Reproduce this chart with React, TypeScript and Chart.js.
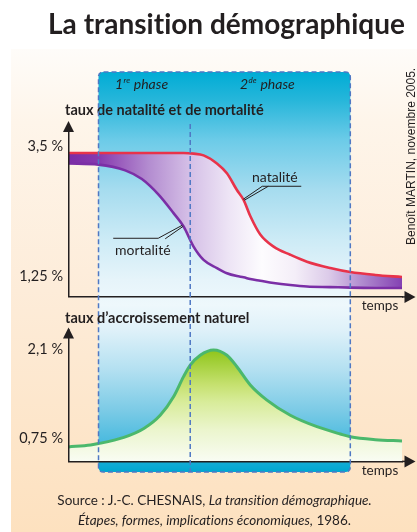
import React, { useEffect, useRef } from "react";
import { Chart, registerables } from "chart.js";

Chart.register(...registerables);

// ---------------- data ----------------
const TIME = [0, 9, 17, 22, 27, 31.5, 34.5, 37.5, 40.5, 44.5, 47.5, 50.5, 52.5, 54.5, 57.5, 61.5, 66.5, 71.5, 78.5, 84.5, 92, 100];
const NATALITE = [3.39, 3.39, 3.39, 3.39, 3.39, 3.39, 3.39, 3.38, 3.35, 3.21, 3.04, 2.75, 2.58, 2.3, 1.98, 1.77, 1.63, 1.51, 1.4, 1.33, 1.28, 1.245];
const MORTALITE = [3.21, 3.19, 3.09, 2.94, 2.67, 2.35, 2.12, 1.77, 1.54, 1.4, 1.31, 1.26, 1.24, 1.21, 1.18, 1.14, 1.105, 1.08, 1.07, 1.06, 1.055, 1.055];

const TIME_GROWTH = [0, 6.6, 9, 16.6, 22.6, 27.5, 31.5, 34.5, 36.5, 39.5, 43.5, 47.5, 50.5, 54.5, 59.5, 66.5, 74.5, 81.5, 84.5, 92, 100];
const ACCROISSEMENT = [0.62, 0.65, 0.67, 0.765, 0.9, 1.1, 1.38, 1.685, 1.86, 2.01, 2.09, 2.01, 1.836, 1.56, 1.33, 1.1, 0.926, 0.815, 0.774, 0.73, 0.71];

const RATE_TICKS = [1.25, 3.5];
const GROWTH_TICKS = [0.75, 2.1];
const RATE_RANGE = [0.9, 3.85];
const GROWTH_RANGE = [0.4, 2.4];
const TIME_RANGE = [0, 100];
const PHASE_BOUNDS = [9, 36.5, 84.5];

const TITLE = "La transition démographique";
const RATE_AXIS_TITLE = "taux de natalité et de mortalité";
const GROWTH_AXIS_TITLE = "taux d\u2019accroissement naturel";
const X_AXIS_TITLE = "temps";
const NAT_LABEL = "natalité";
const MORT_LABEL = "mortalité";
const CREDIT = "Benoît MARTIN, novembre 2005.";

// ---------------- styles ----------------
const W = 417;
const H = 532;
const FONT = "Lato, 'Open Sans', sans-serif";
const INK = "#231f20";
const DASH_COLOR = "#4f78c4";
const BAND_TOP = 72;
const BAND_BOTTOM = 472;

const PURPLE_STOPS: [number, string][] = [
  [0, "#7a2ca6"], [0.09, "#8739ae"], [0.24, "#b38cd0"], [0.36, "#d4bee6"],
  [0.48, "#ede4f5"], [0.58, "#fdfcfe"], [0.68, "#f4eef8"], [0.78, "#dccbe9"],
  [0.88, "#b08bcf"], [1, "#8441b3"],
];
const GREEN_STOPS: [number, string][] = [
  [0, "#86c212"], [0.16, "#90c61c"], [0.42, "#c6e170"], [0.55, "#d8ec9a"],
  [0.76, "#ebf5cd"], [1, "#f9fcf3"],
];
const BLUE_STOPS: [number, string][] = [
  [0, "#00acd5"], [0.07, "#26b6da"], [0.17, "#6ccbe8"], [0.295, "#a6dcef"],
  [0.42, "#cdebf6"], [0.52, "#e6f4fa"], [0.5825, "#eef8fc"], [0.645, "#dff1f9"],
  [0.745, "#b3e0f1"], [0.845, "#7ccbe6"], [0.92, "#4dbbdf"], [0.9725, "#16acd6"],
  [1, "#00a6d0"],
];

const fmtPct = (v: number) => String(v).replace(".", ",") + " %";

function roundRectPath(ctx: CanvasRenderingContext2D, x: number, y: number, w: number, h: number, r: number) {
  ctx.beginPath();
  ctx.moveTo(x + r, y);
  ctx.lineTo(x + w - r, y);
  ctx.quadraticCurveTo(x + w, y, x + w, y + r);
  ctx.lineTo(x + w, y + h - r);
  ctx.quadraticCurveTo(x + w, y + h, x + w - r, y + h);
  ctx.lineTo(x + r, y + h);
  ctx.quadraticCurveTo(x, y + h, x, y + h - r);
  ctx.lineTo(x, y + r);
  ctx.quadraticCurveTo(x, y, x + r, y);
  ctx.closePath();
}

function text(ctx: CanvasRenderingContext2D, s: string, x: number, y: number, font: string, align: CanvasTextAlign = "left") {
  ctx.font = font;
  ctx.fillStyle = INK;
  ctx.textAlign = align;
  ctx.textBaseline = "middle";
  ctx.fillText(s, x, y);
  return ctx.measureText(s).width;
}

function arrowUp(ctx: CanvasRenderingContext2D, x: number, tip: number) {
  ctx.beginPath();
  ctx.moveTo(x, tip);
  ctx.lineTo(x - 5.5, tip + 11);
  ctx.lineTo(x + 5.5, tip + 11);
  ctx.closePath();
  ctx.fill();
}

function arrowRight(ctx: CanvasRenderingContext2D, tip: number, y: number, from: number) {
  ctx.beginPath();
  ctx.moveTo(from, y);
  ctx.lineTo(tip - 10, y);
  ctx.stroke();
  ctx.beginPath();
  ctx.moveTo(tip, y);
  ctx.lineTo(tip - 11, y - 6);
  ctx.lineTo(tip - 11, y + 6);
  ctx.closePath();
  ctx.fill();
}

function phaseLabel(ctx: CanvasRenderingContext2D, x: number, y: number, num: string, sup: string) {
  const w1 = text(ctx, num, x, y, `italic 14px ${FONT}`);
  const w2 = text(ctx, sup, x + w1 + 0.5, y - 4, `italic 8px ${FONT}`);
  text(ctx, " phase", x + w1 + w2 + 1, y, `italic 14px ${FONT}`);
}

function purpleFill(chart: any) {
  const { ctx, chartArea } = chart;
  if (!chartArea) return "#b58ad0";
  const g = ctx.createLinearGradient(chartArea.left, 0, chartArea.right, 0);
  PURPLE_STOPS.forEach(([o, c]) => g.addColorStop(o, c));
  return g;
}

function greenFill(chart: any) {
  const { ctx, chartArea } = chart;
  if (!chartArea) return "#cfe585";
  const g = ctx.createLinearGradient(0, chartArea.top, 0, chartArea.bottom);
  GREEN_STOPS.forEach(([o, c]) => g.addColorStop(o, c));
  return g;
}

const rateDecor = {
  id: "rateDecor",
  beforeDraw(chart: any) {
    const { ctx } = chart;
    const xs = chart.scales.x;
    ctx.save();
    const pg = ctx.createLinearGradient(0, 49, 0, H);
    pg.addColorStop(0, "#fefcf9");
    pg.addColorStop(0.15, "#fef5ea");
    pg.addColorStop(0.5, "#fdecd9");
    pg.addColorStop(1, "#fde1bf");
    ctx.fillStyle = pg;
    ctx.fillRect(11, 49, W - 11, H - 49);
    const x0 = xs.getPixelForValue(PHASE_BOUNDS[0]);
    const x1 = xs.getPixelForValue(PHASE_BOUNDS[2]);
    const bg = ctx.createLinearGradient(0, BAND_TOP, 0, BAND_BOTTOM);
    BLUE_STOPS.forEach(([o, c]) => bg.addColorStop(o, c));
    ctx.fillStyle = bg;
    roundRectPath(ctx, x0, BAND_TOP, x1 - x0, BAND_BOTTOM - BAND_TOP, 5);
    ctx.fill();
    ctx.restore();
  },
  afterDraw(chart: any) {
    const { ctx, chartArea: ca } = chart;
    const xs = chart.scales.x;
    const ys = chart.scales.y;
    ctx.save();
    ctx.fillStyle = INK;
    ctx.strokeStyle = INK;
    ctx.lineWidth = 1.5;
    arrowUp(ctx, ca.left, ca.top - 5.5);
    arrowRight(ctx, ca.right + 13.5, ca.bottom, ca.right);
    text(ctx, X_AXIS_TITLE, 380, 306, `13.5px ${FONT}`, "center");
    text(ctx, RATE_AXIS_TITLE, 65, 110, `bold 14.5px ${FONT}`);
    phaseLabel(ctx, 115, 84, "1", "re");
    phaseLabel(ctx, 240, 84, "2", "de");
    // curve labels with leaders
    ctx.lineWidth = 1;
    const na = { x: xs.getPixelForValue(52.4), y: ys.getPixelForValue(2.59) };
    ctx.beginPath();
    ctx.moveTo(na.x, na.y);
    ctx.lineTo(na.x + 19, na.y - 13);
    ctx.lineTo(na.x + 58, na.y - 13);
    ctx.moveTo(na.x + 1, na.y + 1);
    ctx.lineTo(na.x + 25, na.y - 13);
    ctx.stroke();
    text(ctx, NAT_LABEL, 252, 177, `14px ${FONT}`);
    const ma = { x: xs.getPixelForValue(34.1), y: ys.getPixelForValue(2.14) };
    ctx.beginPath();
    ctx.moveTo(ma.x, ma.y);
    ctx.lineTo(ma.x - 24, ma.y + 13);
    ctx.lineTo(ma.x - 69, ma.y + 13);
    ctx.moveTo(ma.x + 1, ma.y + 1);
    ctx.lineTo(ma.x - 17, ma.y + 13.5);
    ctx.stroke();
    text(ctx, MORT_LABEL, 115, 250, `14px ${FONT}`);
    ctx.restore();
  },
};

const growthDecor = {
  id: "growthDecor",
  afterDraw(chart: any) {
    const { ctx, chartArea: ca } = chart;
    const xs = chart.scales.x;
    const [p0, p1, p2] = PHASE_BOUNDS.map((v) => xs.getPixelForValue(v));
    ctx.save();
    ctx.strokeStyle = DASH_COLOR;
    ctx.lineWidth = 1.5;
    ctx.setLineDash([5, 3]);
    roundRectPath(ctx, p0, BAND_TOP, p2 - p0, BAND_BOTTOM - BAND_TOP, 5);
    ctx.stroke();
    ctx.beginPath();
    ctx.moveTo(p1, 124);
    ctx.lineTo(p1, BAND_BOTTOM);
    ctx.stroke();
    ctx.setLineDash([]);
    ctx.fillStyle = INK;
    ctx.strokeStyle = INK;
    ctx.lineWidth = 1.5;
    arrowUp(ctx, ca.left, ca.top - 2);
    arrowRight(ctx, ca.right + 13.5, ca.bottom, ca.right);
    text(ctx, GROWTH_AXIS_TITLE, 65, 318, `bold 14.5px ${FONT}`);
    text(ctx, X_AXIS_TITLE, 380, 471, `13.5px ${FONT}`, "center");
    ctx.restore();
  },
};

function axisOptions(ticks: number[], range: number[]) {
  return {
    x: {
      type: "linear",
      min: TIME_RANGE[0],
      max: TIME_RANGE[1],
      grid: { display: false, drawTicks: false },
      ticks: { display: false },
      border: { display: true, color: INK, width: 1.5, z: 1 },
      afterFit: (s: any) => { s.height = 0; },
    },
    y: {
      type: "linear",
      min: range[0],
      max: range[1],
      grid: { display: false, drawTicks: false },
      border: { display: true, color: INK, width: 1.5, z: 1 },
      ticks: {
        padding: 5.5,
        color: INK,
        font: { family: FONT, size: 14.5 },
        callback: (v: number) => fmtPct(v),
      },
      afterBuildTicks: (s: any) => { s.ticks = ticks.map((value) => ({ value })); },
      afterFit: (s: any) => { s.width = 68.5; },
    },
  };
}

const baseOptions = {
  responsive: false,
  animation: false,
  events: [],
};

export default function App() {
  const refA = useRef<HTMLCanvasElement>(null);
  const refB = useRef<HTMLCanvasElement>(null);

  useEffect(() => {
    const rates = new Chart(refA.current as HTMLCanvasElement, {
      type: "line",
      data: {
        datasets: [
          {
            label: NAT_LABEL,
            data: TIME.map((t, i) => ({ x: t, y: NATALITE[i] })),
            borderColor: "#e8334a",
            borderWidth: 2.6,
            pointRadius: 0,
            cubicInterpolationMode: "monotone",
            fill: "+1",
            backgroundColor: (c: any) => purpleFill(c.chart),
          },
          {
            label: MORT_LABEL,
            data: TIME.map((t, i) => ({ x: t, y: MORTALITE[i] })),
            borderColor: "#7b2fa6",
            borderWidth: 2.6,
            pointRadius: 0,
            cubicInterpolationMode: "monotone",
            fill: false,
          },
        ],
      },
      options: {
        ...baseOptions,
        plugins: {
          legend: { display: false },
          tooltip: { enabled: false },
          title: { display: false },
          filler: { drawTime: "beforeDatasetsDraw" },
        },
        layout: { padding: { left: 0, right: 15, top: 126.5, bottom: 235.1 } },
        scales: axisOptions(RATE_TICKS, RATE_RANGE),
      } as any,
      plugins: [rateDecor],
    } as any);

    const growth = new Chart(refB.current as HTMLCanvasElement, {
      type: "line",
      data: {
        datasets: [
          {
            label: GROWTH_AXIS_TITLE,
            data: TIME_GROWTH.map((t, i) => ({ x: t, y: ACCROISSEMENT[i] })),
            borderColor: "#4bb86c",
            borderWidth: 3,
            pointRadius: 0,
            cubicInterpolationMode: "monotone",
            fill: "start",
            backgroundColor: (c: any) => greenFill(c.chart),
          },
        ],
      },
      options: {
        ...baseOptions,
        plugins: {
          legend: { display: false },
          tooltip: { enabled: false },
          title: { display: false },
        },
        layout: { padding: { left: 0, right: 15, top: 329.5, bottom: 70.6 } },
        scales: axisOptions(GROWTH_TICKS, GROWTH_RANGE),
      } as any,
      plugins: [growthDecor],
    } as any);

    return () => {
      rates.destroy();
      growth.destroy();
    };
  }, []);

  const abs: React.CSSProperties = { position: "absolute", left: 0, top: 0, width: W, height: H };

  return (
    <div
      style={{
        ...abs, overflow: "hidden", background: "#ffffff", fontFamily: FONT, color: INK,
        fontVariantLigatures: "none",
      }}
    >
      <canvas ref={refA} width={W} height={H} style={abs} />
      <canvas ref={refB} width={W} height={H} style={abs} />
      <div
        style={{
          position: "absolute", left: 226.5, top: 8.5, transform: "translateX(-50%)",
          fontSize: 28, lineHeight: "28px", fontWeight: 700, whiteSpace: "nowrap",
        }}
      >
        {TITLE}
      </div>
      <div
        style={{
          position: "absolute", left: 405.3, top: 245, transform: "rotate(-90deg)",
          transformOrigin: "left top", fontFamily: "'Liberation Sans', Arial, sans-serif",
          fontSize: 12, lineHeight: "12px", whiteSpace: "nowrap",
        }}
      >
        {CREDIT}
      </div>
      <div
        style={{
          position: "absolute", left: 0, width: 429, top: 489.5, textAlign: "center",
          fontSize: 13.5, lineHeight: "20.5px", whiteSpace: "nowrap",
        }}
      >
        Source : J.-C. CHESNAIS, <i>La transition démographique.</i>
        <br />
        <i>Étapes, formes, implications économiques,</i> 1986.
      </div>
    </div>
  );
}
